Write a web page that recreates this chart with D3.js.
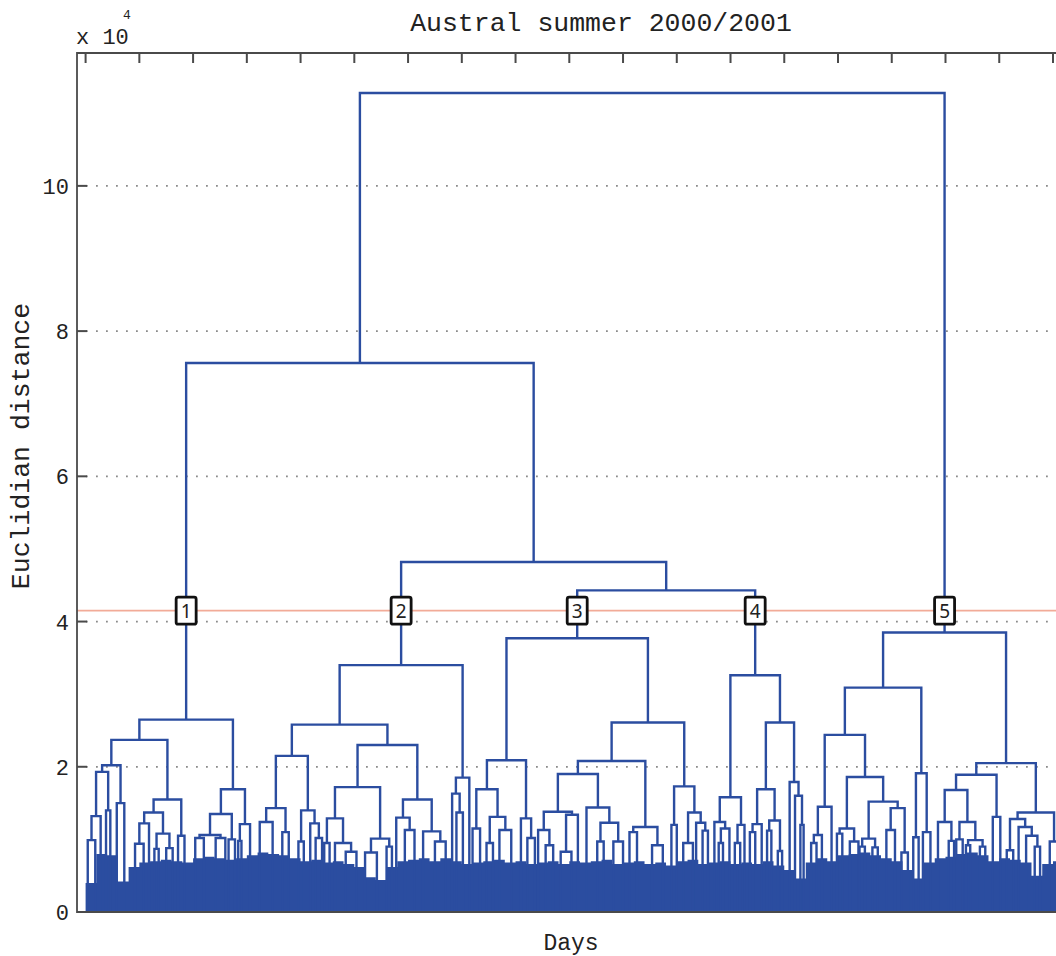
<!DOCTYPE html>
<html><head><meta charset="utf-8">
<script src="https://cdn.jsdelivr.net/npm/d3@7/dist/d3.min.js"></script>
<style>body{margin:0;background:#fff} svg{display:block}</style>
</head><body>
<svg id="chart" width="1056" height="956"></svg>
<script>
// ---------------- data ----------------
const titleText = "Austral summer 2000/2001";
const yLabelText = "Euclidian distance";
const xLabelText = "Days";
const yTicks = [0, 2, 4, 6, 8, 10];
const yTickLabels = ["0", "2", "4", "6", "8", "10"];
const xTicks = [0,50,100,150,200,250,300,350,400,450,500,550,600,650,700,750,800,850,900,950];
const cutoff = 4.15;               // x 10^4, red threshold line
const clusterNames = ["1", "2", "3", "4", "5"];

// Tree nodes: [height, left, right]; a bare number is a leaf sub-cluster at that day index
const cluster1 = [2.65,
  [2.37,
    [2.02, [1.93, [1.32, [0.99, 2, 9], 14], [1.40, 19, 23]], [1.50, 29, 36]],
    [1.55, [1.37, [1.22, [0.94, 46, 54], 59], [1.08, [0.87, 64, 68], [0.88, 75, 81]]], [1.05, 86, 92]]],
  [1.69,
    [1.35, [1.06, [1.02, 102, 110], [1.02, 121, 130]], [1.00, 133, 139]],
    [1.21, [0.98, 142, 145], 153]]];

const cluster2 = [3.40,
  [2.58,
    [2.15, [1.43, [1.24, 162, 174], [1.10, 183, 189]], [1.40, [0.97, 198, 203], [1.22, 209, [1.02, 214, 220]]]],
    [2.30,
      [1.72, [1.29, [0.95, 222, 227], [0.95, 232, [0.83, 242, 252]]], [1.01, [0.82, 260, 271], [0.90, 280, 285]]],
      [1.55, [1.30, 289, [1.13, 297, 306]], [1.11, 314, [0.97, 325, 335]]]]],
  [1.85, [1.63, 341, [1.37, 345, 351]], 357]];

const cluster3 = [3.77,
  [2.09, [1.69, [1.15, 360, 367], [1.31, [0.95, 373, 379], [1.13, 385, 396]]], [1.29, 405, [1.02, 411, 418]]],
  [2.61,
    [2.08,
      [1.90, [1.38, [1.13, 421, [0.92, 428, 435]], [1.34, [0.83, 442, 452], 458]],
             [1.44, 466, [1.23, [0.97, 476, 482], [0.97, 491, 500]]]],
      [1.17, [1.10, 506, 513], [0.92, 527, 537]]],
    [1.73, [1.20, 545, 550], [1.37, [0.95, 556, 565], [1.23, 568, [1.12, 574, 579]]]]]];

const cluster4 = [3.26,
  [1.58, [1.24, 585, [1.15, [0.95, 589, 593], 599]], [1.20, [0.95, 604, 609], 613]],
  [2.61,
    [1.69, [1.21, [1.10, 618, 623], 629], [1.26, [1.12, 634, 638], [0.84, 644, 648]]],
    [1.79, 655, [1.60, 660, [1.20, 665, 668]]]]];

const cluster5 = [3.85,
  [3.09,
    [2.44,
      [1.45, [1.06, [0.95, 675, 680], 685], 694],
      [1.86, [1.15, [1.08, 699, 704], [0.97, 711, 719]],
             [1.52, [1.01, [0.90, 720, 725], [0.89, 732, 737]], [1.43, [1.13, 745, 753], [0.82, 759, 765]]]]],
    [1.91, [1.03, 770, 775], [1.10, 779, 786]]],
  [2.05,
    [1.89,
      [1.68, [1.24, 793, [0.98, 803, 808]], [1.24, [1.00, 810, 816], [0.99, [0.92, 819, 823], [0.90, 832, 837]]]],
      [1.31, 844, 851]],
    [1.37, [1.28, [0.85, 857, 863], [1.17, 868, [1.05, 875, [0.90, 883, 888]]]], [0.97, 897, 905]]]];

// upper merges
const mergeHeights = { c34: 4.43, c234: 4.82, left: 7.56, root: 11.28 };

// dense low-level linkage mass (top of the solid block), sampled every 10 days from day 0
const fillTop = [0.40,0.80,0.78,0.42,0.62,0.68,0.70,0.72,0.70,0.68,
  0.74,0.76,0.74,0.72,0.74,0.78,0.82,0.80,0.78,0.74,
  0.70,0.72,0.68,0.70,0.66,0.62,0.48,0.44,0.62,0.70,
  0.72,0.74,0.70,0.74,0.70,0.66,0.68,0.70,0.72,0.68,
  0.70,0.66,0.68,0.70,0.66,0.70,0.68,0.70,0.72,0.66,
  0.68,0.70,0.66,0.68,0.64,0.70,0.72,0.66,0.68,0.70,
  0.66,0.68,0.66,0.70,0.64,0.58,0.46,0.68,0.74,0.70,
  0.78,0.80,0.82,0.78,0.74,0.70,0.58,0.46,0.68,0.74,
  0.76,0.80,0.82,0.78,0.70,0.74,0.72,0.68,0.50,0.66,
  0.70,0.68,0.70,0.68,0.70,0.68,0.66];

// ---------------- layout ----------------
const svg = d3.select("#chart");
const plotL = 77, plotT = 53, plotB = 912, plotR = 1125;
const x = d3.scaleLinear().domain([-8, 967]).range([plotL, plotR]);
const y = d3.scaleLinear().domain([0, 11.83]).range([plotB, plotT]);
const blue = "#2b4da0";
const monoFont = "'Liberation Mono', 'DejaVu Sans Mono', monospace";

svg.append("rect").attr("width", 1056).attr("height", 956).attr("fill", "#fff");
svg.append("defs").append("clipPath").attr("id", "clip")
  .append("rect").attr("x", plotL).attr("y", plotT).attr("width", plotR - plotL).attr("height", plotB - plotT);

const plot = svg.append("g").attr("clip-path", "url(#clip)");

// dotted grid
plot.selectAll("line.grid").data(yTicks.filter(d => d > 0)).join("line")
  .attr("x1", plotL).attr("x2", plotR)
  .attr("y1", d => y(d)).attr("y2", d => y(d))
  .attr("stroke", "#8a8a8a").attr("stroke-width", 1.8)
  .attr("stroke-dasharray", "1.8 8.2").attr("stroke-dashoffset", -9);

// cutoff line
plot.append("line").attr("x1", plotL).attr("x2", plotR)
  .attr("y1", y(cutoff)).attr("y2", y(cutoff))
  .attr("stroke", "#f2ab98").attr("stroke-width", 1.6);

// dense mass
const fillPts = fillTop.map((v, i) => [i * 10, v]);
fillPts.push([fillTop.length * 10, fillTop[fillTop.length - 1]]);
plot.append("path")
  .attr("d", d3.area().x(d => x(d[0])).y0(y(0)).y1(d => y(d[1])).curve(d3.curveStepAfter)(fillPts))
  .attr("fill", blue);

// tree
const tree = [mergeHeights.root,
  [mergeHeights.left, cluster1, [mergeHeights.c234, cluster2, [mergeHeights.c34, cluster3, cluster4]]],
  cluster5];

const links = [];
function layout(node) {
  if (typeof node === "number") return { x: node, h: 0 };
  const l = layout(node[1]), r = layout(node[2]);
  const pos = { x: (l.x + r.x) / 2, h: node[0] };
  links.push({ l, r, h: node[0] });
  node._pos = pos;
  return pos;
}
layout(tree);

plot.selectAll("path.link").data(links).join("path")
  .attr("d", d => `M${x(d.l.x)},${y(d.l.h)}V${y(d.h)}H${x(d.r.x)}V${y(d.r.h)}`)
  .attr("fill", "none").attr("stroke", blue).attr("stroke-width", 2.4)
  .attr("stroke-linejoin", "miter");

// axes frame
const axisCol = "#4a4a4a";
svg.append("path")
  .attr("d", `M${plotR},${plotT}H${plotL}V${plotB}H${plotR}`)
  .attr("fill", "none").attr("stroke", axisCol).attr("stroke-width", 1.8);

// y ticks
svg.selectAll("line.ytick").data(yTicks).join("line")
  .attr("x1", plotL).attr("x2", plotL + 10)
  .attr("y1", d => y(d)).attr("y2", d => y(d))
  .attr("stroke", axisCol).attr("stroke-width", 2);
svg.selectAll("text.ylab").data(yTicks).join("text")
  .attr("x", plotL - 8).attr("y", d => y(d) + 8)
  .attr("text-anchor", "end")
  .attr("font-family", monoFont).attr("font-size", 22).attr("fill", "#222")
  .text((d, i) => yTickLabels[i]);

// top x ticks
svg.selectAll("line.xtick").data(xTicks).join("line")
  .attr("x1", d => x(d)).attr("x2", d => x(d))
  .attr("y1", plotT).attr("y2", plotT + 10)
  .attr("stroke", axisCol).attr("stroke-width", 2);

// exponent label
svg.append("text").attr("x", 76).attr("y", 44)
  .attr("font-family", monoFont).attr("font-size", 22).attr("fill", "#222").text("x 10");
svg.append("text").attr("x", 123).attr("y", 19)
  .attr("font-family", monoFont).attr("font-size", 13).attr("fill", "#222").text("4");

// title & labels
svg.append("text").attr("x", 601).attr("y", 31).attr("text-anchor", "middle")
  .attr("font-family", monoFont).attr("font-size", 26.5).attr("fill", "#222").text(titleText);
svg.append("text").attr("x", 571).attr("y", 950).attr("text-anchor", "middle")
  .attr("font-family", monoFont).attr("font-size", 23).attr("fill", "#222").text(xLabelText);
svg.append("text").attr("transform", "translate(29,446) rotate(-90)").attr("text-anchor", "middle")
  .attr("font-family", monoFont).attr("font-size", 26.5).attr("fill", "#222").text(yLabelText);

// cluster boxes
const clusterNodes = [cluster1, cluster2, cluster3, cluster4, cluster5];
const boxes = svg.selectAll("g.box").data(clusterNodes).join("g")
  .attr("transform", d => `translate(${x(d._pos.x)},${y(cutoff)})`);
boxes.append("rect").attr("x", -10).attr("y", -13.5).attr("width", 20).attr("height", 27)
  .attr("rx", 2).attr("fill", "#fff").attr("stroke", "#111").attr("stroke-width", 2.8);
boxes.append("text").attr("y", 7).attr("text-anchor", "middle")
  .attr("font-family", "'Noto Sans', 'Open Sans', sans-serif").attr("font-size", 19).attr("fill", "#222")
  .text((d, i) => clusterNames[i]);
</script>
</body></html>
